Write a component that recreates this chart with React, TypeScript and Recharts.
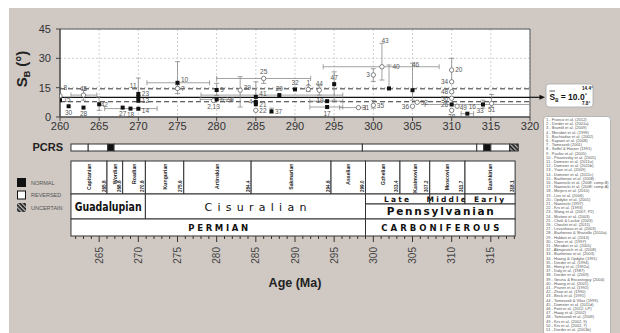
import React from 'react';
import {
  ScatterChart,
  Scatter,
  ComposedChart,
  XAxis,
  YAxis,
  CartesianGrid,
  ErrorBar,
  ReferenceLine,
  ReferenceArea,
} from 'recharts';

const ageTicks = [260, 265, 270, 275, 280, 285, 290, 295, 300, 305, 310, 315, 320];
const sbTicks = [0, 15, 30, 45];
const sbMean = 10.0;
const sbUpper = 14.4;
const sbLower = 7.8;

// [reference id, age (Ma), S_B (deg)]
const normalPoles: [string, number, number][] = [
  ['15', 260.0, 8.6], ['30', 261.1, 5.5], ['28', 263.0, 4.8], ['42', 265.0, 6.5],
  ['27', 268.0, 4.8], ['18', 269.0, 4.3], ['23', 270.0, 11.8], ['11', 270.0, 10.2],
  ['12', 270.0, 8.3], ['14', 270.0, 4.2], ['10', 275.0, 17.5], ['9', 280.0, 13.8],
  ['6,24', 280.0, 9.0], ['41', 285.0, 10.3], ['4', 285.0, 7.7], ['21', 285.0, 6.5],
  ['37', 287.0, 2.9], ['29', 288.0, 11.2], ['32', 290.0, 14.1], ['19', 294.1, 8.1],
  ['17', 294.1, 5.1], ['47', 295.0, 16.8], ['40', 302.0, 14.6], ['46', 305.0, 13.7],
  ['26', 310.0, 6.4], ['16', 312.0, 1.7], ['33', 314.0, 6.4],
];
const openPoles: [string, number, number][] = [
  ['8', 260.0, 10.8], ['45', 263.0, 11.2], ['7', 275.0, 14.6], ['2,13', 279.6, 8.4],
  ['39', 283.0, 13.7], ['22', 285.0, 3.4], ['25', 286.0, 19.7], ['1', 291.7, 14.1],
  ['44', 293.1, 13.7], ['31', 298.1, 4.8], ['3', 300.0, 21.5], ['35', 300.0, 6.0],
  ['43', 301.1, 25.7], ['36', 305.0, 5.5], ['52', 305.6, 7.5], ['20', 310.0, 24.0],
  ['34', 310.0, 18.0], ['48', 310.0, 12.9], ['50', 310.0, 9.6], ['38', 310.0, 3.4],
  ['49', 310.7, 5.5], ['51', 315.1, 6.9],
];

// age ranges [min, max] in Ma
const ageRanges: Record<string, [number, number]> = {
  '45': [261.4, 264.7], '18': [265.7, 272.4], '10': [271.1, 279.1], '6,24': [277.9, 282.1],
  '25': [280.0, 292.0], '29': [278.0, 296.1], '19': [291.9, 296.1], '17': [291.9, 296.1],
  '31': [295.7, 299.0], '43': [293.6, 308.4], '26': [306.6, 320.0], '16': [311.2, 312.8],
};
// S_B ranges [min, max] in deg
const sbRanges: Record<string, [number, number]> = {
  '45': [8.6, 13.7], '42': [3.4, 10.3], '23': [8.0, 19.9], '10': [14.0, 28.3], '9': [11.0, 17.2],
  '7': [12.0, 16.5], '39': [5.1, 20.6], '41': [7.5, 18.0], '25': [17.2, 19.7], '37': [2.0, 4.5],
  '1': [13.0, 16.0], '44': [11.2, 16.0], '47': [8.6, 23.1], '43': [18.9, 37.7], '3': [18.2, 24.7],
  '40': [14.6, 26.6], '35': [4.5, 8.5], '46': [8.6, 27.5], '20': [18.0, 30.0], '33': [4.5, 8.6],
  '51': [5.0, 11.5],
};

// timescale
const stageNames = ['Capitanian', 'Wordian', 'Roadian', 'Kungurian', 'Artinskian', 'Sakmarian', 'Asselian', 'Gzhelian', 'Kasimovian', 'Moscovian', 'Bashkirian'];
const stageBounds = [261.4, 266.0, 268.0, 270.9, 275.8, 284.4, 294.6, 299.0, 303.4, 307.2, 311.7, 318.1];
const stageBaseLabels = ['265.8', '268.8', '270.6', '275.6', '284.4', '294.6', '299.0', '303.4', '307.2', '311.7', '318.1'];
const permianSeries: [string, number, number][] = [['Guadalupian', 261.4, 270.9], ['Cisuralian', 270.9, 299.0]];
const carbSubseries: [string, number, number][] = [['Late', 299.0, 307.2], ['Middle', 307.2, 311.7], ['Early', 311.7, 318.1]];
const carbSeries: [string, number, number] = ['Pennsylvanian', 299.0, 318.1];
const systems: [string, number, number][] = [['PERMIAN', 261.4, 299.0], ['CARBONIFEROUS', 299.0, 318.1]];
const pcrsBounds = [261.4, 263.6, 266.1, 266.9, 298.6, 313.2, 314.1, 315.0, 317.4, 318.5];
const pcrsPolarity = ['R', 'R', 'N', 'R', 'R', 'R', 'N', 'R', 'U'];
const minorAgeTicks = Array.from({ length: 57 }, (_, i) => 262 + i);

const references = [
  'Franco et al. (2012)', 'Derder et al. (2001a)', 'Bramlil et al. (2009)', 'Merabet et al. (1999)',
  'Bachtadse et al. (2002)', 'Kapaini et al. (2008)', 'Tomezzoli (2001)', 'Soffel & Harzer (1991)',
  'Pavlov et al. (2005)', 'Pisarevsky et al. (2005)', 'Domeier et al. (2011a)', 'Domeier et al. (2011b)',
  'Yuan et al. (2009)', 'Domeier et al. (2011c)', 'Bazhenov et al. (2008)', 'Nawrocki et al. (2008; comp.B)',
  'Nawrocki et al. (2008; comp.A)', 'Meijers et al. (2010)', 'Liss et al. (2006)', 'Opdyke et al. (2001)',
  'Nawrocki (1997)', 'Krs et al. (1993)', 'Wang et al. (2007, P2)', 'Muttoni et al. (2003)',
  'Clark & Lackie (2003)', 'Choulet et al. (2011)', 'Levashova et al. (2003)', 'Bazhenov & Shatsillo (2010a)',
  'Haldan et al. (2014)', 'Chen et al. (1997)', 'Merabet et al. (2005)', 'Abrajevitch et al. (2008)',
  'Bazhenov et al. (2003)', 'Huang & Opdyke (1991)', 'Derder et al. (1994)', 'Henry et al. (1992a)',
  'Daly et al. (1987)', 'Derder et al. (2009)', 'Geuna & Escosteguy (2004)', 'Huang et al. (2001)',
  'Pruner et al. (1992)', 'Zhao et al. (1990)', 'Beck et al. (1991)', 'Tomezzoli & Vilas (1999)',
  'Domeier et al. (2011d)', 'Font et al. (2012, LP)', 'Haag et al. (2002)', 'Tomezzoli et al. (2009)',
  'Krs et al. (2002, 9)', 'Krs et al. (2002, 7)', 'Derder et al. (2001b)',
];

// label placement around each marker
const labelSide: Record<string, string> = {
  '30': 'b', '28': 'b', '27': 'b', '18': 'b', '17': 'b', '38': 'b', '51': 'b', '33': 'b', '2,13': 'b',
  '45': 't', '29': 't', '32': 't', '1': 't', '44': 't', '47': 't', '25': 't', '16': 't',
  '4': 'l', '19': 'l', '3': 'l', '36': 'l', '34': 'l', '48': 'l', '50': 'l', '26': 'l',
};
const labelShift: Record<string, [number, number]> = {
  '8': [0, -8], '11': [-12, -11], '40': [0, -22], '46': [-4, -26], '43': [-4, -26],
  '10': [0, -3], '39': [0, -3], '41': [0, -3], '42': [-2, 0], '33': [-3, 0], '14': [0, 2],
  '16': [5, -1], '49': [-1, 1],
};

const FONT = '"Liberation Sans", Arial, sans-serif';
const GEO = '"DejaVu Sans", sans-serif';

const toRows = (pts: [string, number, number][]) =>
  pts.map(([id, age, sb]) => ({
    id,
    age,
    sb,
    ex: ageRanges[id] ? [age - ageRanges[id][0], ageRanges[id][1] - age] : undefined,
    ey: sbRanges[id] ? [sb - sbRanges[id][0], sbRanges[id][1] - sb] : undefined,
  }));

const normalRows = toRows(normalPoles);
const openRows = toRows(openPoles);

function makeMarker(open: boolean) {
  return (props: any) => {
    const { cx, cy, payload } = props;
    if (cx == null || cy == null) return <g />;
    const side = labelSide[payload.id] || 'r';
    let dx = 3.5, dy = 2.3, anchor = 'start';
    if (side === 'l') { dx = -3.5; anchor = 'end'; }
    if (side === 't') { dx = 0; dy = -4; anchor = 'middle'; }
    if (side === 'b') { dx = 0; dy = 8.5; anchor = 'middle'; }
    const shift = labelShift[payload.id] || [0, 0];
    return (
      <g>
        {open ? (
          <circle cx={cx} cy={cy} r={2.2} fill="#fff" stroke="#666" strokeWidth={0.8} />
        ) : (
          <rect x={cx - 2} y={cy - 2} width={4} height={4} fill="#111" />
        )}
        <text
          x={cx + dx + shift[0]}
          y={cy + dy + shift[1]}
          textAnchor={anchor}
          fontSize={6.5}
          fill="#555"
          stroke="none"
          fontFamily={FONT}
        >
          {payload.id}
        </text>
      </g>
    );
  };
}

function boxShape(draw: (b: any) => React.ReactNode, fill = '#fff') {
  return (p: any) => (
    <g>
      <rect x={p.x} y={p.y} width={p.width} height={p.height} fill={fill} stroke="#333" strokeWidth={1} />
      {draw(p)}
    </g>
  );
}

function AgeTick(props: any) {
  const { x, y, payload } = props;
  const major = payload.value % 5 === 0;
  return (
    <g>
      <line x1={x} x2={x} y1={y} y2={y + (major ? 6 : 3)} stroke="#333" strokeWidth={1} />
      {major && (
        <text transform={`translate(${x + 3.5},${y + 11}) rotate(-90)`} textAnchor="end" fontSize={10} fill="#444" fontFamily={FONT}>
          {payload.value}
        </text>
      )}
    </g>
  );
}

function TopChart() {
  return (
    <ScatterChart width={620} height={140} margin={{ top: 29, right: 86, bottom: 3, left: 10 }}>
      <CartesianGrid stroke="#cfcfcf" strokeDasharray="2 2" fill="#fff" fillOpacity={1} />
      <XAxis
        type="number"
        dataKey="age"
        domain={[260, 320]}
        ticks={ageTicks}
        interval={0}
        allowDataOverflow
        height={20}
        tickSize={4}
        tickMargin={1}
        stroke="#444"
        tick={{ fontSize: 11, fill: '#333', fontFamily: FONT }}
      />
      <YAxis
        type="number"
        dataKey="sb"
        domain={[0, 45]}
        ticks={sbTicks}
        interval={0}
        allowDataOverflow
        width={50}
        tickSize={4}
        tickMargin={5}
        stroke="#444"
        tick={{ fontSize: 11, fill: '#333', fontFamily: FONT }}
      />
      <YAxis
        yAxisId="r"
        orientation="right"
        type="number"
        domain={[0, 45]}
        ticks={[15, 30]}
        width={4}
        tickSize={3}
        axisLine={false}
        stroke="#444"
        tickFormatter={() => ''}
      />
      <ReferenceArea x1={260} x2={320} y1={0} y2={45} fill="none" stroke="#555" strokeWidth={1} />
      <ReferenceLine y={sbUpper} stroke="#333" strokeDasharray="5 3" strokeWidth={1} />
      <ReferenceLine y={sbLower} stroke="#333" strokeDasharray="5 3" strokeWidth={1} />
      <ReferenceLine y={sbMean} stroke="#111" strokeWidth={1.3} />
      <Scatter data={openRows} fill="#fff" shape={makeMarker(true)} isAnimationActive={false}>
        <ErrorBar dataKey="ex" direction="x" width={2.5} stroke="#8a8a8a" strokeWidth={0.8} />
        <ErrorBar dataKey="ey" direction="y" width={2.5} stroke="#8a8a8a" strokeWidth={0.8} />
      </Scatter>
      <Scatter data={normalRows} fill="#111" shape={makeMarker(false)} isAnimationActive={false}>
        <ErrorBar dataKey="ex" direction="x" width={2.5} stroke="#8a8a8a" strokeWidth={0.8} />
        <ErrorBar dataKey="ey" direction="y" width={2.5} stroke="#8a8a8a" strokeWidth={0.8} />
      </Scatter>
    </ScatterChart>
  );
}

function TimescaleChart() {
  const polFill = (p: string) => (p === 'N' ? '#111' : p === 'U' ? 'url(#hatch)' : '#fff');
  return (
    <ComposedChart width={620} height={333} margin={{ top: 140, right: 90, bottom: 57, left: 60 }}>
      <XAxis
        type="number"
        dataKey="age"
        domain={[260, 320]}
        ticks={minorAgeTicks}
        interval={0}
        allowDataOverflow
        height={40}
        tickSize={0}
        tickMargin={0}
        axisLine={false}
        tickLine={false}
        tick={<AgeTick />}
      />
      <YAxis hide type="number" domain={[140, 236]} reversed allowDataOverflow />
      {pcrsPolarity.map((p, i) => (
        <ReferenceArea
          key={`pcrs${i}`}
          x1={pcrsBounds[i]}
          x2={pcrsBounds[i + 1]}
          y1={144}
          y2={151}
          shape={boxShape(() => null, polFill(p))}
        />
      ))}
      {stageNames.map((name, i) => (
        <ReferenceArea
          key={name}
          x1={stageBounds[i]}
          x2={stageBounds[i + 1]}
          y1={161}
          y2={194}
          shape={boxShape((b) => (
            <>
              <text transform={`translate(${b.x + b.width / 2 + 2},${b.y + 2.5}) rotate(-90)`} textAnchor="end" fontSize={5.2} fontWeight="bold" fill="#222" fontFamily={FONT}>
                {name}
              </text>
              <text transform={`translate(${b.x + b.width - 1.5},${b.y + b.height - 2}) rotate(-90)`} textAnchor="start" fontSize={4.6} fontWeight="bold" fill="#222" fontFamily={FONT}>
                {stageBaseLabels[i]}
              </text>
            </>
          ))}
        />
      ))}
      {permianSeries.map(([name, a, b]) => (
        <ReferenceArea
          key={name}
          x1={a}
          x2={b}
          y1={194}
          y2={219}
          shape={boxShape((r) => (
            <text
              x={r.x + r.width / 2}
              y={r.y + r.height / 2 + 4}
              textAnchor="middle"
              fontSize={name === 'Guadalupian' ? 11.5 : 11}
              fontWeight={name === 'Guadalupian' ? 'bold' : 'normal'}
              fill="#111"
              fontFamily={GEO}
              textLength={name === 'Guadalupian' ? 67 : 102}
              lengthAdjust={name === 'Guadalupian' ? 'spacingAndGlyphs' : 'spacing'}
            >
              {name}
            </text>
          ))}
        />
      ))}
      {carbSubseries.map(([name, a, b]) => (
        <ReferenceArea
          key={name}
          x1={a}
          x2={b}
          y1={194}
          y2={204}
          shape={boxShape((r) => (
            <text x={r.x + r.width / 2} y={r.y + 7.5} textAnchor="middle" fontSize={7.5} fontWeight="bold" letterSpacing={2.2} fill="#111" fontFamily={GEO}>
              {name}
            </text>
          ))}
        />
      ))}
      <ReferenceArea
        x1={carbSeries[1]}
        x2={carbSeries[2]}
        y1={204}
        y2={219}
        shape={boxShape((r) => (
          <text x={r.x + r.width / 2} y={r.y + 11} textAnchor="middle" fontSize={10.5} fontWeight="bold" fill="#111" fontFamily={GEO} textLength={107} lengthAdjust="spacing">
            {carbSeries[0]}
          </text>
        ))}
      />
      {systems.map(([name, a, b]) => (
        <ReferenceArea
          key={name}
          x1={a}
          x2={b}
          y1={219}
          y2={236}
          shape={boxShape((r) => (
            <text
              x={r.x + r.width / 2}
              y={r.y + 11.5}
              textAnchor="middle"
              fontSize={8.5}
              fontWeight="bold"
              fill="#111"
              fontFamily={GEO}
              textLength={name === 'PERMIAN' ? 60 : 118}
              lengthAdjust="spacing"
            >
              {name}
            </text>
          ))}
        />
      ))}
    </ComposedChart>
  );
}

function Overlay() {
  return (
    <svg width={620} height={333} style={{ position: 'absolute', left: 0, top: 0, pointerEvents: 'none' }}>
      <defs>
        <pattern id="hatch" patternUnits="userSpaceOnUse" width="3" height="3" patternTransform="rotate(-45)">
          <rect width="3" height="3" fill="#111" />
          <line x1="0.8" y1="0" x2="0.8" y2="3" stroke="#fff" strokeWidth="1" />
        </pattern>
      </defs>
      {/* y axis title */}
      <text transform="translate(27,69) rotate(-90)" textAnchor="middle" fontSize={15} fontWeight="bold" fill="#222" fontFamily={FONT}>
        S<tspan fontSize={9} dy={3}>B</tspan>
        <tspan dy={-3}> (°)</tspan>
      </text>
      {/* mean arrow */}
      <line x1={530} y1={97.3} x2={541} y2={97.3} stroke="#111" strokeWidth={1.2} />
      <path d="M545,97.3 L539.5,94.8 L539.5,99.8 Z" fill="#111" />
      {/* mean box */}
      <rect x={546} y={84} width={47} height={23} rx={3} fill="#fff" stroke="#aaa" strokeWidth={0.8} />
      <line x1={549.5} x2={555} y1={91} y2={91} stroke="#111" strokeWidth={0.7} />
      <text x={549.5} y={100} fontSize={8.5} fontWeight="bold" fill="#111" fontFamily={FONT}>
        S<tspan fontSize={4.5} dy={1.5}>B</tspan>
        <tspan dy={-1.5}> = 10.0</tspan>
        <tspan fontSize={6} dy={-3}>°</tspan>
      </text>
      <text x={582} y={90} fontSize={4.6} fontWeight="bold" fill="#111" fontFamily={FONT}>14.4°</text>
      <text x={582} y={104.5} fontSize={4.6} fontWeight="bold" fill="#111" fontFamily={FONT}>7.8°</text>
      {/* references */}
      <rect x={543.5} y={116.5} width={67} height={230} rx={3} fill="#fff" stroke="#aaa" strokeWidth={0.8} />
      {references.map((r, i) => (
        <text key={r + i} x={546} y={121 + i * 4.2} fontSize={4} fill="#555" fontFamily={FONT}>
          {`${i + 1} - ${r}`}
        </text>
      ))}
      {/* PCRS */}
      <text x={63} y={151} textAnchor="end" fontSize={11} fontWeight="bold" fill="#222" fontFamily={FONT}>PCRS</text>
      {/* polarity legend */}
      <rect x={17} y={178} width={9} height={9} fill="#111" />
      <rect x={17.5} y={191} width={8} height={8} fill="#fff" stroke="#111" strokeWidth={1} />
      <rect x={17} y={203} width={9} height={9} fill="url(#hatch)" />
      <text x={31} y={184.5} fontSize={5.5} fill="#555" fontFamily={FONT}>NORMAL</text>
      <text x={31} y={197} fontSize={5.5} fill="#555" fontFamily={FONT}>REVERSED</text>
      <text x={31} y={209.5} fontSize={5.5} fill="#555" fontFamily={FONT}>UNCERTAIN</text>
      {/* x title */}
      <text x={295} y={287} textAnchor="middle" fontSize={12.5} fontWeight="bold" fill="#222" fontFamily={FONT}>Age (Ma)</text>
    </svg>
  );
}

export default function App() {
  return (
    <div style={{ position: 'absolute', left: 0, top: 0, width: 620, height: 333, overflow: 'hidden', background: '#fff' }}>
      <div style={{ position: 'absolute', left: 9, top: 8, width: 611, height: 325, background: '#cfc8c3' }} />
      <div style={{ position: 'absolute', left: 0, top: 0 }}>
        <TimescaleChart />
      </div>
      <div style={{ position: 'absolute', left: 0, top: 0 }}>
        <TopChart />
      </div>
      <Overlay />
    </div>
  );
}
